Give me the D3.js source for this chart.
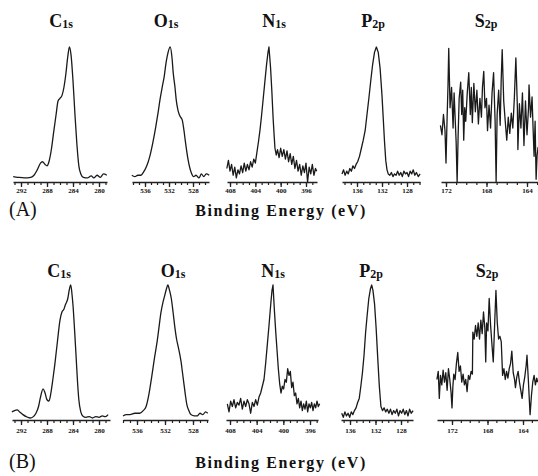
<!DOCTYPE html>
<html>
<head>
<meta charset="utf-8">
<script src="https://cdn.jsdelivr.net/npm/d3@7"></script>
<style>
  body { margin: 0; background: #fff; }
  text { font-family: "Liberation Serif", "DejaVu Serif", serif; fill: #111; }
</style>
</head>
<body>
<div id="chart"></div>
<script>
// titles
var elements = ["C", "O", "N", "P", "S"];
var orbitals = ["1s", "1s", "1s", "2p", "2p"];
var rowLabels = ["(A)", "(B)"];
var xLabel = "Binding Energy (eV)";

// tick labels per element
var c1sTicks = [292, 288, 284, 280];
var o1sTicks = [536, 532, 528];
var n1sTicks = [408, 404, 400, 396];
var p2pTicks = [136, 132, 128];
var s2pTicks = [172, 168, 164];

// spectra, [binding energy, normalised intensity]
var c1sA = [[293.2,0.04],[292.5,0.035],[291.5,0.03],[290.5,0.035],[290.0,0.05],[289.5,0.09],[289.0,0.14],[288.7,0.15],
  [288.3,0.13],[288.0,0.12],[287.7,0.15],[287.3,0.25],[287.0,0.36],[286.6,0.5],[286.3,0.6],[286.0,0.62],[285.7,0.64],
  [285.4,0.7],[285.1,0.8],[284.8,0.93],[284.55,1.0],[284.3,0.94],[284.0,0.75],[283.7,0.5],[283.4,0.28],[283.1,0.12],
  [282.8,0.06],[282.4,0.035],[281.8,0.03],[281.2,0.045],[280.8,0.03],[280.3,0.05],[279.8,0.035],[279.3,0.06],[278.8,0.05]];
var o1sA = [[538.2,0.05],[537.7,0.04],[537.2,0.05],[536.7,0.05],[536.3,0.07],[535.7,0.12],[535.2,0.19],[534.7,0.29],
  [534.2,0.41],[533.8,0.52],[533.5,0.61],[533.1,0.71],[532.8,0.78],[532.5,0.88],[532.3,0.93],[531.8,1.0],[531.5,0.92],
  [531.3,0.81],[531.0,0.7],[530.8,0.61],[530.5,0.53],[530.2,0.49],[529.8,0.46],[529.5,0.38],[529.3,0.31],[528.8,0.16],
  [528.3,0.07],[527.9,0.04],[527.5,0.05],[527.0,0.03],[526.6,0.06],[526.2,0.04],[525.8,0.06],[525.3,0.05]];
var n1sA = [[408.5,0.1],[408.25,0.16],[408.0,0.08],[407.75,0.13],[407.5,0.05],[407.25,0.11],[407.0,0.03],[406.75,0.09],
  [406.5,0.06],[406.25,0.12],[406.0,0.07],[405.75,0.14],[405.5,0.08],[405.25,0.13],[405.0,0.09],[404.75,0.15],[404.5,0.11],
  [404.25,0.17],[404.0,0.14],[403.75,0.22],[403.5,0.3],[403.25,0.39],[403.0,0.5],[402.75,0.62],[402.5,0.74],[402.25,0.86],
  [402.0,0.96],[401.85,1.0],[401.6,0.85],[401.4,0.68],[401.2,0.48],[401.05,0.36],[400.9,0.25],[400.7,0.2],[400.5,0.24],
  [400.25,0.18],[400.0,0.25],[399.75,0.19],[399.5,0.24],[399.25,0.17],[399.0,0.23],[398.75,0.15],[398.5,0.21],[398.25,0.13],
  [398.0,0.19],[397.75,0.1],[397.5,0.16],[397.25,0.08],[397.0,0.13],[396.75,0.05],[396.5,0.12],[396.25,0.07],[396.0,0.14],
  [395.75,0.0],[395.5,0.11],[395.25,0.06],[395.0,0.13],[394.75,0.05],[394.5,0.1],[394.3,0.08]];
var p2pA = [[138.4,0.06],[138.15,0.09],[137.9,0.05],[137.65,0.08],[137.4,0.06],[137.15,0.1],[136.9,0.08],[136.65,0.12],
  [136.4,0.1],[136.15,0.13],[135.9,0.15],[135.6,0.19],[135.3,0.25],[135.0,0.31],[134.7,0.38],[134.4,0.5],[134.1,0.62],
  [133.8,0.75],[133.5,0.87],[133.2,0.96],[132.9,1.0],[132.6,0.96],[132.3,0.84],[132.0,0.64],[131.8,0.47],[131.6,0.3],
  [131.4,0.16],[131.2,0.09],[131.0,0.06],[130.75,0.05],[130.5,0.07],[130.25,0.04],[130.0,0.06],[129.75,0.05],[129.5,0.08],
  [129.25,0.05],[129.0,0.07],[128.75,0.04],[128.5,0.08],[128.25,0.06],[128.0,0.07],[127.75,0.04],[127.5,0.08],[127.25,0.06],
  [127.0,0.09],[126.75,0.05],[126.5,0.07],[126.2,0.04],[125.9,0.06]];
var s2pA = [[172.55,0.42],[172.4,0.35],[172.25,0.5],[172.1,0.38],[172.0,0.14],[171.9,0.45],[171.8,0.72],[171.73,0.99],
  [171.6,0.55],[171.45,0.7],[171.3,0.4],[171.2,0.66],[171.1,0.48],[171.0,0.3],[170.9,0.0],[170.8,0.35],[170.7,0.62],
  [170.55,0.74],[170.45,0.5],[170.35,0.68],[170.25,0.31],[170.15,0.55],[170.05,0.45],[169.9,0.66],[169.75,0.81],[169.6,0.5],
  [169.5,0.7],[169.4,0.44],[169.25,0.73],[169.1,0.52],[168.95,0.68],[168.8,0.43],[168.65,0.62],[168.5,0.48],[168.4,0.7],
  [168.27,0.82],[168.15,0.55],[168.0,0.62],[167.9,0.38],[167.75,0.57],[167.6,0.4],[167.45,0.66],[167.3,0.81],[167.15,0.45],
  [167.05,0.0],[166.95,0.5],[166.8,0.68],[166.65,0.42],[166.55,0.75],[166.45,0.98],[166.3,0.6],[166.15,0.45],[166.0,0.31],
  [165.85,0.48],[165.7,0.36],[165.55,0.51],[165.4,0.4],[165.25,0.62],[165.1,0.92],[164.95,0.55],[164.9,0.24],[164.75,0.58],
  [164.6,0.4],[164.45,0.66],[164.3,0.27],[164.15,0.6],[164.0,0.35],[163.85,0.55],[163.8,0.72],[163.65,0.48],[163.5,0.63],
  [163.4,0.4],[163.3,0.19],[163.2,0.45],[163.1,0.02],[163.0,0.2],[162.9,0.26]];

var c1sB = [[293.4,0.06],[293.0,0.07],[292.6,0.075],[292.2,0.06],[291.7,0.04],[291.2,0.025],[290.6,0.015],[290.1,0.025],
  [289.7,0.05],[289.3,0.1],[289.0,0.17],[288.6,0.23],[288.3,0.2],[288.0,0.15],[287.7,0.14],[287.4,0.2],[287.1,0.3],
  [286.8,0.41],[286.4,0.58],[286.0,0.74],[285.7,0.8],[285.4,0.82],[285.2,0.85],[284.8,0.9],[284.55,0.97],[284.35,1.0],
  [284.15,0.93],[284.0,0.85],[283.75,0.66],[283.5,0.45],[283.3,0.28],[283.1,0.15],[282.8,0.06],[282.5,0.03],[282.0,0.02],
  [281.5,0.025],[281.0,0.015],[280.5,0.025],[280.0,0.02],[279.5,0.03],[279.0,0.025],[278.6,0.04]];
var o1sB = [[538.0,0.03],[537.5,0.04],[537.0,0.04],[536.3,0.05],[535.6,0.05],[535.1,0.07],[534.7,0.1],[534.3,0.19],
  [533.9,0.32],[533.5,0.46],[533.1,0.59],[532.8,0.71],[532.6,0.79],[532.3,0.87],[532.1,0.91],[531.8,0.97],[531.6,1.0],
  [531.35,0.96],[531.1,0.9],[530.85,0.8],[530.6,0.69],[530.35,0.6],[530.1,0.54],[529.9,0.49],[529.7,0.43],[529.5,0.35],
  [529.3,0.27],[529.1,0.19],[528.9,0.12],[528.6,0.07],[528.3,0.04],[527.8,0.03],[527.4,0.03],[527.0,0.05],[526.6,0.04],
  [526.2,0.06],[525.9,0.05]];
var n1sB = [[408.4,0.12],[408.15,0.06],[407.9,0.14],[407.65,0.1],[407.4,0.15],[407.15,0.09],[406.9,0.13],[406.65,0.11],
  [406.4,0.16],[406.15,0.08],[405.9,0.14],[405.65,0.1],[405.4,0.15],[405.15,0.12],[404.9,0.05],[404.65,0.13],[404.4,0.1],
  [404.15,0.15],[403.9,0.11],[403.65,0.17],[403.4,0.2],[403.15,0.25],[402.9,0.3],[402.65,0.42],[402.4,0.56],[402.15,0.7],
  [401.9,0.85],[401.7,0.96],[401.55,1.0],[401.35,0.82],[401.15,0.66],[400.95,0.52],[400.75,0.38],[400.55,0.27],[400.35,0.2],
  [400.15,0.25],[399.95,0.23],[399.75,0.3],[399.55,0.28],[399.35,0.38],[399.15,0.33],[398.95,0.36],[398.75,0.24],[398.55,0.28],
  [398.35,0.18],[398.15,0.2],[397.95,0.12],[397.75,0.16],[397.55,0.09],[397.35,0.14],[397.15,0.07],[396.95,0.12],[396.75,0.08],
  [396.55,0.14],[396.35,0.06],[396.15,0.12],[395.95,0.09],[395.75,0.13],[395.55,0.07],[395.35,0.12],[395.15,0.09],[394.95,0.14],
  [394.75,0.1],[394.55,0.12]];
var p2pB = [[137.3,0.05],[137.05,0.02],[136.8,0.06],[136.55,0.03],[136.3,0.05],[136.05,0.02],[135.8,0.06],[135.55,0.04],
  [135.3,0.07],[135.05,0.09],[134.8,0.13],[134.55,0.16],[134.3,0.25],[134.05,0.35],[133.8,0.48],[133.55,0.65],[133.3,0.78],
  [133.05,0.9],[132.8,0.97],[132.6,1.0],[132.4,0.96],[132.15,0.86],[131.9,0.68],[131.65,0.46],[131.4,0.25],[131.15,0.1],
  [130.9,0.07],[130.65,0.09],[130.4,0.06],[130.15,0.08],[129.9,0.05],[129.65,0.08],[129.4,0.04],[129.15,0.07],[128.9,0.05],
  [128.65,0.08],[128.4,0.03],[128.15,0.07],[127.9,0.05],[127.65,0.08],[127.4,0.04],[127.15,0.07],[126.9,0.03],[126.65,0.08],
  [126.4,0.05],[126.1,0.07]];
var s2pB = [[173.7,0.3],[173.55,0.36],[173.43,0.16],[173.3,0.33],[173.15,0.26],[173.0,0.37],[172.85,0.28],[172.7,0.35],
  [172.55,0.22],[172.4,0.38],[172.25,0.3],[172.1,0.2],[172.0,0.09],[171.9,0.25],[171.8,0.34],[171.65,0.3],[171.5,0.42],
  [171.35,0.5],[171.2,0.36],[171.05,0.4],[170.9,0.28],[170.75,0.34],[170.6,0.26],[170.45,0.3],[170.3,0.21],[170.15,0.33],
  [170.0,0.3],[169.85,0.36],[169.7,0.34],[169.65,0.65],[169.5,0.6],[169.35,0.7],[169.2,0.62],[169.05,0.72],[168.9,0.6],
  [168.75,0.74],[168.6,0.64],[168.45,0.8],[168.3,0.68],[168.2,0.43],[168.1,0.72],[167.95,0.66],[167.81,0.9],[167.65,0.7],
  [167.5,0.56],[167.35,0.43],[167.2,0.7],[167.05,0.96],[166.9,0.72],[166.75,0.6],[166.6,0.62],[166.45,0.58],[166.3,0.33],
  [166.15,0.38],[166.0,0.3],[165.85,0.36],[165.7,0.31],[165.55,0.38],[165.4,0.42],[165.26,0.51],[165.1,0.35],[164.95,0.3],
  [164.85,0.24],[164.7,0.32],[164.55,0.36],[164.4,0.28],[164.25,0.22],[164.1,0.16],[163.95,0.26],[163.8,0.32],[163.65,0.4],
  [163.55,0.48],[163.4,0.3],[163.25,0.1],[163.2,0.04],[163.05,0.18],[162.9,0.28],[162.75,0.33],[162.6,0.26],[162.45,0.31],
  [162.34,0.28]];

var W = 538, H = 476;
var svg = d3.select("#chart").append("svg")
    .attr("width", W)
    .attr("height", H);

var ticksList = [c1sTicks, o1sTicks, n1sTicks, p2pTicks, s2pTicks];

// layout of the scanned figure: two energies pinned to pixels, then axis extent
var rows = [
  { axisY: 182, topY: 47, titleY: 27, labelY: 216, tickY: 194,
    spectra: [c1sA, o1sA, n1sA, p2pA, s2pA],
    titleX: [61, 166, 274, 373, 486],
    pin: [[292, 21, 280, 99], [536, 145, 528, 193], [408, 230, 396, 306], [136, 357, 128, 407], [172, 446, 164, 527]],
    ext: [[13, 107], [132, 209], [227, 317], [342, 420], [441, 540]] },
  { axisY: 420, topY: 285, titleY: 277, labelY: 468, tickY: 434,
    spectra: [c1sB, o1sB, n1sB, p2pB, s2pB],
    titleX: [59, 173, 273, 371, 487],
    pin: [[292, 21, 280, 99], [536, 137, 528, 193], [408, 230, 396, 310], [136, 350, 128, 401], [172, 452, 164, 523]],
    ext: [[12, 110], [123, 208], [226, 318], [341, 413], [437, 540]] }
];

rows.forEach(function(row, r) {
    var y = d3.scaleLinear()
        .domain([0, 1])
        .range([row.axisY, row.topY]);

    row.spectra.forEach(function(data, i) {
        var p = row.pin[i], e = row.ext[i];
        var x = d3.scaleLinear().domain([p[0], p[2]]).range([p[1], p[3]]);
        x.domain([x.invert(e[0]), x.invert(e[1])]).range([e[0], e[1]]);

        var g = svg.append("g");

        // minor ticks, 1 eV apart
        var dom = x.domain();
        var minor = d3.range(Math.ceil(d3.min(dom)), Math.floor(d3.max(dom)) + 1);
        g.append("g")
            .attr("transform", "translate(0," + row.axisY + ")")
            .call(d3.axisBottom(x).tickValues(minor).tickSize(3).tickSizeOuter(0).tickFormat(""))
            .call(function(a) {
                a.select(".domain").attr("stroke", "#222").attr("stroke-width", 1.4);
                a.selectAll(".tick line").attr("stroke", "#222").attr("stroke-width", 1.2);
            });

        // labelled ticks
        g.append("g")
            .attr("transform", "translate(0," + row.axisY + ")")
            .call(d3.axisBottom(x).tickValues(ticksList[i]).tickSize(5).tickSizeOuter(0).tickFormat(d3.format("d")))
            .call(function(a) {
                a.select(".domain").remove();
                a.selectAll(".tick line").attr("stroke", "#222").attr("stroke-width", 1.3);
                a.selectAll(".tick text")
                    .attr("y", row.tickY - row.axisY - 6)
                    .attr("dy", "0.71em")
                    .style("font-family", "'Liberation Serif', serif")
                    .style("font-size", "7px")
                    .style("font-weight", "bold")
                    .attr("fill", "#222");
            });

        var line = d3.line()
            .x(function(d) { return x(d[0]); })
            .y(function(d) { return y(d[1]); });
        if (i < 2) line.curve(d3.curveMonotoneX);

        g.append("path")
            .datum(data)
            .attr("d", line)
            .attr("fill", "none")
            .attr("stroke", "#1a1a1a")
            .attr("stroke-width", 1.3)
            .attr("stroke-linejoin", "round");

        // title, e.g. C with subscript 1s
        var t = g.append("text")
            .attr("x", row.titleX[i])
            .attr("y", row.titleY)
            .attr("text-anchor", "middle")
            .style("font-weight", "bold");
        t.append("tspan").style("font-size", "18px").text(elements[i]);
        t.append("tspan").style("font-size", "12px").attr("dy", 1).text(orbitals[i]);
    });

    svg.append("text")
        .attr("x", 9)
        .attr("y", row.labelY)
        .style("font-size", "20px")
        .text(rowLabels[r]);

    svg.append("text")
        .attr("x", 281)
        .attr("y", row.labelY)
        .attr("text-anchor", "middle")
        .style("font-size", "16px")
        .style("font-weight", "bold")
        .style("letter-spacing", "1.6px")
        .text(xLabel);
});
</script>
</body>
</html>
